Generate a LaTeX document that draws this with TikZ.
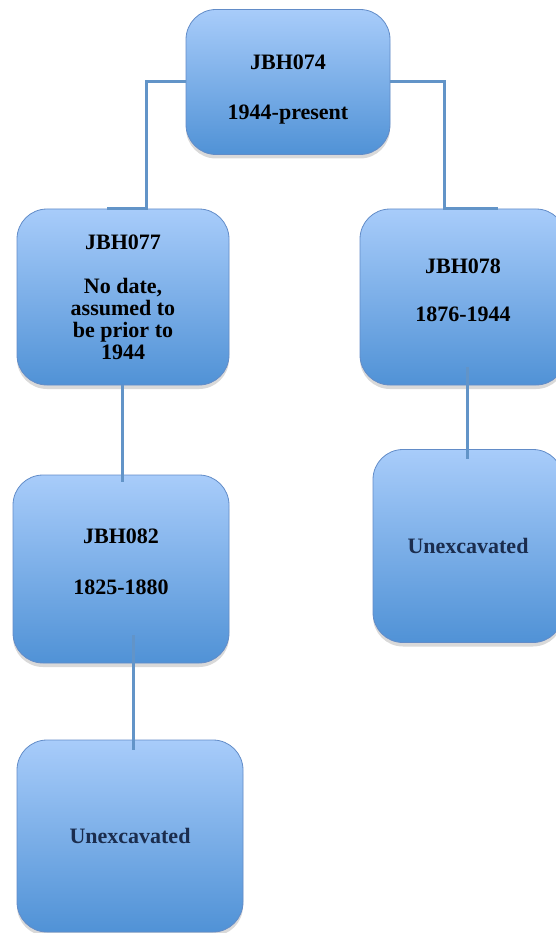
\documentclass[tikz,border=0pt]{standalone}
\usepackage{fontspec}
\setmainfont{Liberation Serif}
\usetikzlibrary{shadows}
\definecolor{boxtop}{RGB}{168,204,250}
\definecolor{boxbot}{RGB}{80,146,214}
\definecolor{boxline}{RGB}{98,140,200}
\definecolor{linkcol}{RGB}{98,148,200}
\definecolor{unexctext}{RGB}{27,45,78}

\begin{document}
\begin{tikzpicture}[x=1pt,y=-1pt,
        box/.style={draw=boxline, line width=0.8pt, rounded corners=30pt,
            top color=boxtop, bottom color=boxbot, inner sep=0pt, align=center,
            font=\fontsize{22}{22}\selectfont\bfseries,
            drop shadow={opacity=0.3, shadow xshift=0pt, shadow yshift=-4pt}},
        unexc/.style={text=unexctext},
        link/.style={draw=linkcol, line width=3pt}]
        \useasboundingbox (0,0) rectangle (555,933);
        \node[box, minimum width=204pt, minimum height=145pt] (jbh074) at (288,82) {\mbox{}\\[7pt]JBH074\\[28pt]1944-present};
        \node[box, minimum width=212pt, minimum height=176pt] (jbh077) at (123,297) {JBH077\\[22pt]No date,\\assumed to\\be prior to\\1944};
        \node[box, minimum width=206pt, minimum height=176pt] (jbh078) at (463,297) {JBH078\\[26pt]1876-1944\\[-8pt]\mbox{}};
        \node[box, minimum width=216pt, minimum height=188pt] (jbh082) at (121,569) {JBH082\\[29pt]1825-1880\\[-8pt]\mbox{}};
        \node[box, unexc, minimum width=226pt, minimum height=192pt] (unexcA) at (130,836) {Unexcavated};
        \node[box, unexc, minimum width=190pt, minimum height=193pt] (unexcB) at (468,546) {Unexcavated};
        \draw[link] (jbh074.west) -| ([xshift=23pt]jbh077.north) -- ([xshift=-16pt]jbh077.north);
        \draw[link] (jbh074.east) -| ([xshift=-19pt]jbh078.north) -- ([xshift=35pt]jbh078.north);
        \draw[link] ([xshift=-1pt]jbh077.south) -- ([xshift=1pt,yshift=-7pt]jbh082.north);
        \draw[link] ([xshift=12pt,yshift=28pt]jbh082.south) -- ([xshift=3pt,yshift=-10pt]unexcA.north);
        \draw[link] ([xshift=4pt,yshift=18pt]jbh078.south) -- ([xshift=-1pt,yshift=-10pt]unexcB.north);
    \end{tikzpicture}
\end{document}
